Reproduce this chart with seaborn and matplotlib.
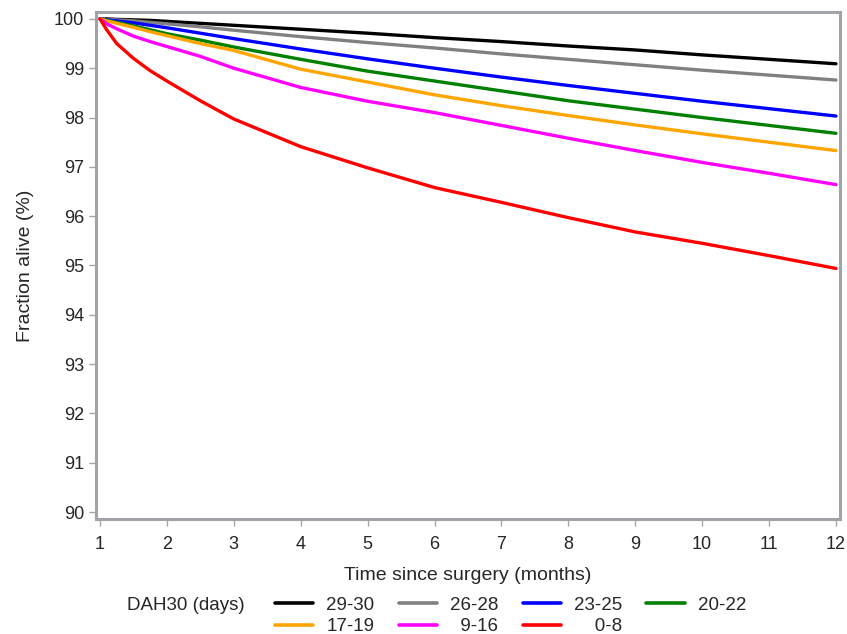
import matplotlib
matplotlib.use("Agg")
import matplotlib.pyplot as plt
import seaborn as sns
import pandas as pd

# Meses desde a cirurgia e fração de vivos (%) por grupo DAH30
months = [1, 1.1, 1.25, 1.5, 1.75, 2, 2.5, 3, 4, 5, 6, 7, 8, 9, 10, 11, 12]
groups = ["29-30", "26-28", "23-25", "20-22", "17-19", "9-16", "0-8"]
alive_29_30 = [100, 100.0, 99.99, 99.98, 99.97, 99.95, 99.91, 99.87, 99.79, 99.71, 99.62, 99.54, 99.45, 99.37, 99.27, 99.18, 99.09]
alive_26_28 = [100, 99.99, 99.98, 99.96, 99.93, 99.90, 99.84, 99.77, 99.64, 99.52, 99.41, 99.29, 99.18, 99.07, 98.96, 98.86, 98.76]
alive_23_25 = [100, 99.98, 99.96, 99.92, 99.87, 99.82, 99.71, 99.60, 99.39, 99.19, 99.00, 98.82, 98.65, 98.49, 98.33, 98.18, 98.03]
alive_20_22 = [100, 99.97, 99.93, 99.86, 99.78, 99.70, 99.57, 99.43, 99.18, 98.94, 98.74, 98.54, 98.34, 98.17, 98.00, 97.84, 97.68]
alive_17_19 = [100, 99.96, 99.91, 99.83, 99.74, 99.66, 99.50, 99.36, 98.98, 98.72, 98.46, 98.24, 98.04, 97.85, 97.67, 97.50, 97.33]
alive_9_16 = [100, 99.90, 99.80, 99.65, 99.54, 99.44, 99.24, 99.00, 98.61, 98.33, 98.10, 97.84, 97.58, 97.33, 97.09, 96.87, 96.64]
alive_0_8 = [100, 99.78, 99.50, 99.20, 98.95, 98.74, 98.34, 97.97, 97.41, 96.98, 96.58, 96.28, 95.97, 95.68, 95.45, 95.20, 94.94]
colors = ["black", "#808080", "#0000ff", "#008000", "#ffa500", "#ff00ff", "#ff0000"]

series = [alive_29_30, alive_26_28, alive_23_25, alive_20_22, alive_17_19, alive_9_16, alive_0_8]
rows = []
for g, vals in zip(groups, series):
    for m, v in zip(months, vals):
        rows.append({"month": m, "alive": v, "DAH30": g})
df = pd.DataFrame(rows)

sns.set_style("white")
plt.rcParams["font.family"] = ["Liberation Sans", "DejaVu Sans"]

fig = plt.figure(figsize=(8.47, 6.34), dpi=100)
ax = fig.add_axes([0.1133, 0.1814, 0.8784, 0.7997])

sns.lineplot(data=df, x="month", y="alive", hue="DAH30", hue_order=groups,
             palette=colors, linewidth=2.4, ax=ax, legend=False)

ax.set_xlim(0.94, 12.06)
ax.set_ylim(89.86, 100.14)
ax.set_xticks(range(1, 13))
ax.set_yticks(range(90, 101))
ax.set_xlabel("Time since surgery (months)", fontsize=14, labelpad=10)
ax.set_ylabel("Fraction alive (%)", fontsize=14, labelpad=14)
ax.tick_params(axis="both", labelsize=13, length=5, width=1, color="#a0a4a8",
               direction="out", bottom=True, left=True)
ax.tick_params(axis="x", pad=7)
for s in ax.spines.values():
    s.set_color("#a0a4a8")
    s.set_linewidth(2.2)

# Legenda em duas linhas, ordem por linha, rótulos alinhados à direita
handles = [plt.Line2D([], [], color=c, linewidth=2.6) for c in colors]
labels = ["29-30", "26-28", "23-25", "20-22", "17-19", "\u20079-16", "\u2007\u20070-8"]
order = [0, 4, 1, 5, 2, 6, 3]
fig.legend([handles[i] for i in order], [labels[i] for i in order],
           ncol=4, loc="center left", bbox_to_anchor=(275 / 847, 1 - 616 / 634),
           frameon=False, fontsize=13.5, handlelength=2.03, columnspacing=1.3,
           labelspacing=0.25, handletextpad=0.7, borderpad=0, borderaxespad=0)
fig.text(127 / 847, 1 - 605 / 634, "DAH30 (days)", fontsize=13.5, va="center")

fig.savefig("out.png", dpi=100)
